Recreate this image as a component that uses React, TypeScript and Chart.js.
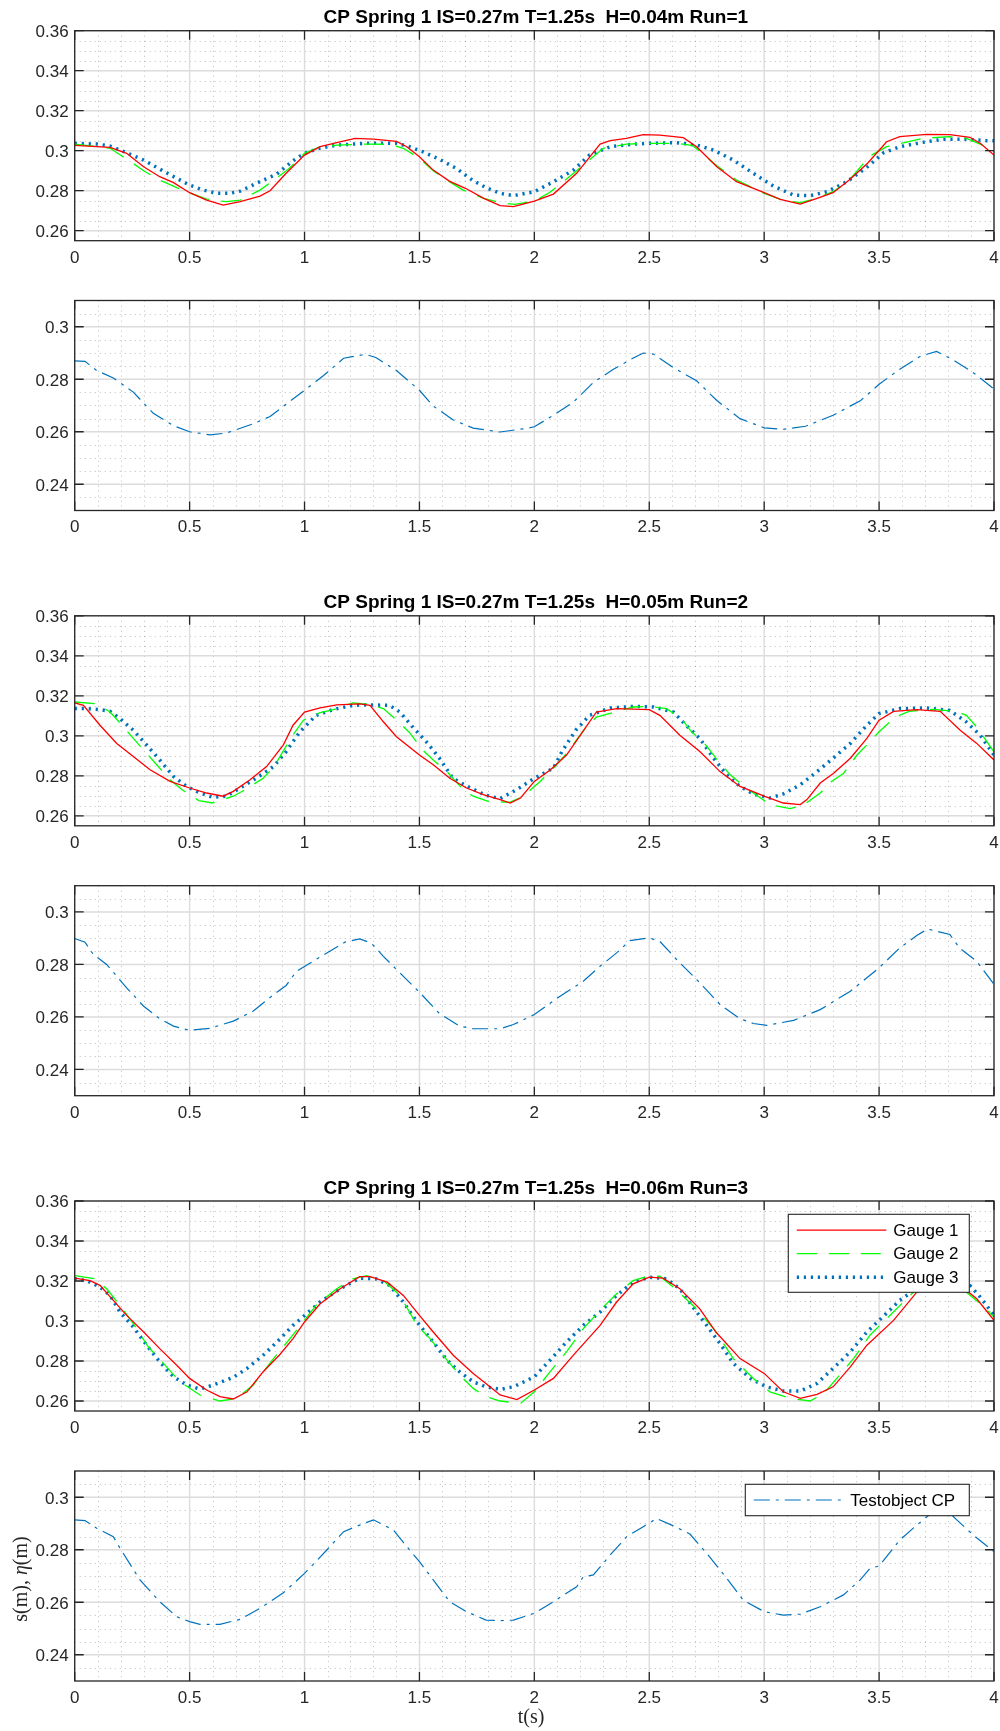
import React, { useEffect, useRef } from "react";
import { Chart, registerables } from "chart.js";

Chart.register(...registerables);

type Pt = [number, number];

// ---------- axes / labels ----------
const timeTicks = [0, 0.5, 1, 1.5, 2, 2.5, 3, 3.5, 4];
const gaugeTicks = [0.26, 0.28, 0.3, 0.32, 0.34, 0.36];
const cpTicks = [0.24, 0.26, 0.28, 0.3];
const timeLimits: [number, number] = [0, 4];
const gaugeLimits: [number, number] = [0.255, 0.36];
const cpLimits: [number, number] = [0.23, 0.31];
const runTitles = [
  "CP Spring 1 IS=0.27m T=1.25s  H=0.04m Run=1",
  "CP Spring 1 IS=0.27m T=1.25s  H=0.05m Run=2",
  "CP Spring 1 IS=0.27m T=1.25s  H=0.06m Run=3",
];
const gaugeLabels = ["Gauge 1", "Gauge 2", "Gauge 3"];
const cpLabel = "Testobject CP";
const xTitle = "t(s)";

// ---------- data: [t (s), value (m)] ----------
const run1Gauge1: Pt[] = [
  [0, 0.3027], [0.154, 0.3017], [0.226, 0.2987], [0.3, 0.292], [0.37, 0.287], [0.43, 0.284], [0.5, 0.279],
  [0.574, 0.2753], [0.646, 0.2728], [0.72, 0.2745], [0.806, 0.2773], [0.85, 0.28], [0.92, 0.2887], [1.0, 0.2978],
  [1.068, 0.302], [1.14, 0.304], [1.22, 0.3062], [1.3, 0.3058], [1.4, 0.3047], [1.445, 0.302], [1.5, 0.297],
  [1.56, 0.2903], [1.63, 0.2848], [1.7, 0.2812], [1.78, 0.2762], [1.851, 0.2725], [1.909, 0.272], [2.0, 0.2748],
  [2.083, 0.2783], [2.184, 0.2887], [2.286, 0.3033], [2.33, 0.305], [2.4, 0.3062], [2.474, 0.308], [2.546, 0.3078],
  [2.648, 0.3065], [2.706, 0.302], [2.794, 0.292], [2.88, 0.2845], [3.0, 0.279], [3.07, 0.2757], [3.157, 0.2733],
  [3.23, 0.2762], [3.3, 0.279], [3.37, 0.2853], [3.45, 0.2937], [3.533, 0.3045], [3.59, 0.307], [3.707, 0.3082],
  [3.808, 0.308], [3.895, 0.3067], [3.94, 0.3037], [4.0, 0.2978],
];
const run1Gauge2: Pt[] = [
  [0, 0.3033], [0.154, 0.3012], [0.233, 0.2953], [0.3, 0.29], [0.37, 0.2853], [0.444, 0.2815], [0.5, 0.279],
  [0.574, 0.2758], [0.66, 0.2745], [0.72, 0.2753], [0.806, 0.2803], [0.857, 0.2845], [0.929, 0.2907], [1.0, 0.2987],
  [1.068, 0.302], [1.14, 0.3028], [1.27, 0.3033], [1.37, 0.3032], [1.43, 0.3012], [1.5, 0.2962], [1.56, 0.29],
  [1.62, 0.2853], [1.69, 0.2803], [1.78, 0.2762], [1.851, 0.274], [1.916, 0.2732], [2.0, 0.2748], [2.068, 0.2792],
  [2.184, 0.29], [2.3, 0.3012], [2.4, 0.3033], [2.5, 0.3037], [2.62, 0.3037], [2.69, 0.3025], [2.794, 0.2925],
  [2.88, 0.2853], [3.0, 0.2787], [3.08, 0.2753], [3.157, 0.274], [3.23, 0.2762], [3.3, 0.2795], [3.37, 0.2853],
  [3.46, 0.2973], [3.533, 0.302], [3.61, 0.304], [3.69, 0.3062], [3.808, 0.307], [3.88, 0.3062], [3.94, 0.3033],
  [4.0, 0.2995],
];
const run1Gauge3: Pt[] = [
  [0, 0.3037], [0.096, 0.3033], [0.154, 0.3023], [0.226, 0.299], [0.3, 0.2953], [0.37, 0.2908], [0.444, 0.2862],
  [0.5, 0.2828], [0.56, 0.2803], [0.618, 0.2787], [0.676, 0.2787], [0.72, 0.2798], [0.806, 0.2845], [0.879, 0.2883],
  [0.95, 0.295], [1.0, 0.2987], [1.068, 0.3013], [1.14, 0.3028], [1.27, 0.3037], [1.4, 0.3037], [1.456, 0.302],
  [1.514, 0.2995], [1.587, 0.2957], [1.66, 0.2912], [1.73, 0.2853], [1.79, 0.2815], [1.851, 0.2787], [1.909, 0.2775],
  [2.0, 0.2795], [2.083, 0.2845], [2.17, 0.2903], [2.24, 0.2978], [2.33, 0.302], [2.43, 0.3033], [2.5, 0.3037],
  [2.62, 0.304], [2.706, 0.3028], [2.78, 0.3003], [2.866, 0.2953], [2.953, 0.2887], [3.04, 0.2823], [3.128, 0.2778],
  [3.2, 0.2775], [3.273, 0.2795], [3.36, 0.2845], [3.45, 0.292], [3.52, 0.299], [3.59, 0.302], [3.68, 0.304],
  [3.78, 0.3057], [3.88, 0.3057], [3.97, 0.305], [4.0, 0.305],
];
const run1Cp: Pt[] = [
  [0, 0.287], [0.045, 0.2868], [0.096, 0.2833], [0.168, 0.2805], [0.255, 0.2751], [0.342, 0.267], [0.43, 0.2623],
  [0.5, 0.26], [0.589, 0.2588], [0.66, 0.2595], [0.776, 0.263], [0.85, 0.2658], [0.92, 0.2705], [1.0, 0.2758],
  [1.083, 0.2814], [1.17, 0.288], [1.264, 0.2895], [1.31, 0.2883], [1.4, 0.2833], [1.5, 0.2758], [1.56, 0.2698],
  [1.647, 0.2645], [1.734, 0.2614], [1.851, 0.2599], [1.967, 0.2613], [2.0, 0.2619], [2.083, 0.2663], [2.17, 0.2713],
  [2.257, 0.2788], [2.344, 0.2838], [2.431, 0.2881], [2.474, 0.29], [2.518, 0.2896], [2.605, 0.2844], [2.706, 0.2794],
  [2.794, 0.2719], [2.895, 0.265], [3.0, 0.2615], [3.08, 0.2609], [3.18, 0.2621], [3.3, 0.2663], [3.42, 0.2719],
  [3.5, 0.2781], [3.59, 0.2838], [3.68, 0.2888], [3.75, 0.2906], [3.82, 0.2875], [3.91, 0.2825], [4.0, 0.2763],
];

const run2Gauge1: Pt[] = [
  [0, 0.3165], [0.038, 0.3152], [0.11, 0.3053], [0.183, 0.2962], [0.255, 0.2896], [0.328, 0.283], [0.415, 0.2772],
  [0.5, 0.2739], [0.574, 0.2714], [0.646, 0.2698], [0.69, 0.2722], [0.763, 0.278], [0.835, 0.2846], [0.908, 0.2955],
  [0.95, 0.3053], [1.0, 0.3119], [1.068, 0.314], [1.14, 0.3155], [1.24, 0.316], [1.285, 0.3152], [1.343, 0.307],
  [1.4, 0.2995], [1.5, 0.2904], [1.56, 0.2855], [1.632, 0.2788], [1.705, 0.2739], [1.778, 0.2706], [1.851, 0.2681],
  [1.895, 0.2664], [1.94, 0.2689], [2.0, 0.2772], [2.07, 0.283], [2.14, 0.2904], [2.21, 0.302], [2.27, 0.3119],
  [2.358, 0.3136], [2.5, 0.3131], [2.546, 0.3102], [2.633, 0.3003], [2.72, 0.2921], [2.808, 0.2821], [2.895, 0.2747],
  [3.0, 0.2698], [3.083, 0.2664], [3.157, 0.2656], [3.186, 0.2681], [3.244, 0.2764], [3.302, 0.2813], [3.375, 0.2888],
  [3.447, 0.2987], [3.5, 0.3078], [3.563, 0.3122], [3.664, 0.3131], [3.766, 0.3122], [3.853, 0.3028], [3.925, 0.2962],
  [4.0, 0.2879],
];
const run2Gauge2: Pt[] = [
  [0, 0.3169], [0.096, 0.316], [0.154, 0.3119], [0.21, 0.3048], [0.255, 0.2987], [0.313, 0.2912], [0.357, 0.2855],
  [0.415, 0.278], [0.466, 0.2731], [0.54, 0.2676], [0.6, 0.2664], [0.69, 0.2698], [0.75, 0.2736], [0.82, 0.2788],
  [0.865, 0.2841], [0.94, 0.2987], [0.995, 0.3078], [1.068, 0.3116], [1.126, 0.3131], [1.21, 0.3165], [1.285, 0.3157],
  [1.343, 0.3136], [1.415, 0.3064], [1.46, 0.3012], [1.514, 0.2929], [1.56, 0.2879], [1.62, 0.2821], [1.69, 0.2731],
  [1.734, 0.2698], [1.807, 0.2669], [1.851, 0.2669], [1.895, 0.2668], [1.952, 0.2698], [2.025, 0.2772], [2.083, 0.2838],
  [2.14, 0.2912], [2.22, 0.3036], [2.27, 0.3094], [2.35, 0.3119], [2.43, 0.3144], [2.5, 0.3147], [2.575, 0.3136],
  [2.64, 0.3086], [2.684, 0.302], [2.735, 0.297], [2.79, 0.2888], [2.85, 0.2808], [2.895, 0.2764], [2.953, 0.2714],
  [3.025, 0.2656], [3.113, 0.2636], [3.17, 0.2653], [3.244, 0.2714], [3.29, 0.2769], [3.346, 0.2813], [3.404, 0.2904],
  [3.46, 0.297], [3.5, 0.302], [3.57, 0.3094], [3.63, 0.3122], [3.737, 0.3132], [3.838, 0.3122], [3.88, 0.3102],
  [3.918, 0.3053], [3.97, 0.297], [4.0, 0.292],
];
const run2Gauge3: Pt[] = [
  [0, 0.3136], [0.052, 0.3136], [0.11, 0.3131], [0.154, 0.3122], [0.197, 0.3086], [0.255, 0.3028], [0.313, 0.2954],
  [0.37, 0.2879], [0.43, 0.2797], [0.487, 0.2747], [0.545, 0.2714], [0.6, 0.2693], [0.66, 0.2698], [0.72, 0.2739],
  [0.79, 0.2788], [0.865, 0.2846], [0.92, 0.2921], [0.98, 0.302], [1.05, 0.3102], [1.126, 0.3132], [1.21, 0.3152],
  [1.27, 0.3155], [1.37, 0.3152], [1.415, 0.3119], [1.47, 0.3045], [1.53, 0.297], [1.587, 0.2888], [1.645, 0.2788],
  [1.717, 0.2742], [1.79, 0.2702], [1.851, 0.2686], [1.924, 0.2731], [2.0, 0.2788], [2.083, 0.2838], [2.12, 0.2921],
  [2.18, 0.3028], [2.24, 0.3102], [2.33, 0.3139], [2.43, 0.3147], [2.518, 0.3144], [2.605, 0.3119], [2.66, 0.3053],
  [2.72, 0.2987], [2.78, 0.2888], [2.837, 0.2805], [2.895, 0.2747], [2.953, 0.2709], [3.025, 0.2689], [3.083, 0.2709],
  [3.157, 0.2755], [3.23, 0.2821], [3.3, 0.2888], [3.375, 0.2962], [3.447, 0.3053], [3.5, 0.3111], [3.59, 0.3136],
  [3.707, 0.3139], [3.808, 0.3127], [3.88, 0.3069], [3.94, 0.3003], [4.0, 0.2904],
];
const run2Cp: Pt[] = [
  [0, 0.2899], [0.045, 0.2885], [0.081, 0.2838], [0.139, 0.28], [0.226, 0.2711], [0.3, 0.2641], [0.37, 0.2593],
  [0.43, 0.2565], [0.5, 0.2549], [0.589, 0.2557], [0.69, 0.2584], [0.776, 0.2622], [0.865, 0.2685], [0.92, 0.272],
  [0.965, 0.2774], [1.037, 0.2812], [1.126, 0.2859], [1.176, 0.2885], [1.24, 0.2897], [1.29, 0.2882], [1.343, 0.2831],
  [1.415, 0.2768], [1.5, 0.2694], [1.587, 0.2613], [1.675, 0.2565], [1.734, 0.2555], [1.851, 0.2555], [1.909, 0.2571],
  [2.0, 0.2609], [2.112, 0.2679], [2.213, 0.2736], [2.286, 0.2793], [2.358, 0.2844], [2.416, 0.2891], [2.5, 0.2901],
  [2.546, 0.2888], [2.619, 0.2819], [2.72, 0.273], [2.808, 0.2647], [2.895, 0.2593], [2.953, 0.2575], [3.012, 0.2568],
  [3.128, 0.2587], [3.244, 0.2628], [3.375, 0.2698], [3.5, 0.2787], [3.59, 0.2863], [3.664, 0.291], [3.711, 0.2935],
  [3.766, 0.2923], [3.808, 0.2914], [3.85, 0.2863], [3.925, 0.2812], [4.0, 0.2724],
];

const run3Gauge1: Pt[] = [
  [0, 0.3214], [0.067, 0.3202], [0.11, 0.3178], [0.168, 0.3103], [0.226, 0.3028], [0.3, 0.2945], [0.37, 0.2862],
  [0.444, 0.2779], [0.5, 0.2713], [0.574, 0.2655], [0.632, 0.2622], [0.69, 0.261], [0.75, 0.2646], [0.82, 0.2746],
  [0.89, 0.2829], [0.95, 0.2912], [1.0, 0.2995], [1.068, 0.3086], [1.155, 0.3161], [1.24, 0.3222], [1.285, 0.3222],
  [1.36, 0.3194], [1.43, 0.3128], [1.5, 0.3028], [1.56, 0.2945], [1.647, 0.2829], [1.734, 0.2738], [1.807, 0.2671],
  [1.851, 0.263], [1.924, 0.2607], [2.0, 0.2655], [2.083, 0.2713], [2.17, 0.2829], [2.286, 0.2978], [2.358, 0.3095],
  [2.43, 0.3186], [2.5, 0.3219], [2.56, 0.3214], [2.633, 0.3161], [2.72, 0.3061], [2.79, 0.2945], [2.895, 0.2812],
  [3.0, 0.2738], [3.083, 0.2646], [3.157, 0.2613], [3.23, 0.2633], [3.3, 0.2671], [3.375, 0.2771], [3.447, 0.2879],
  [3.563, 0.3003], [3.664, 0.3144], [3.737, 0.3202], [3.8, 0.3215], [3.853, 0.3178], [3.925, 0.3111], [4.0, 0.3003],
];
const run3Gauge2: Pt[] = [
  [0, 0.3227], [0.088, 0.3211], [0.139, 0.3161], [0.197, 0.3078], [0.255, 0.2987], [0.32, 0.2871], [0.386, 0.2788],
  [0.458, 0.2696], [0.545, 0.263], [0.632, 0.26], [0.705, 0.2613], [0.777, 0.268], [0.865, 0.2812], [0.908, 0.2871],
  [0.966, 0.2954], [1.05, 0.3078], [1.14, 0.3161], [1.21, 0.3211], [1.27, 0.3227], [1.343, 0.3202], [1.415, 0.3128],
  [1.49, 0.2978], [1.546, 0.2912], [1.62, 0.2804], [1.675, 0.273], [1.734, 0.2663], [1.79, 0.2622], [1.851, 0.26],
  [1.94, 0.2588], [2.0, 0.2646], [2.068, 0.2746], [2.14, 0.2846], [2.213, 0.2962], [2.286, 0.3053], [2.358, 0.3136],
  [2.43, 0.3202], [2.5, 0.3227], [2.546, 0.3224], [2.605, 0.3169], [2.69, 0.3078], [2.78, 0.2962], [2.866, 0.2812],
  [2.953, 0.2713], [3.025, 0.2646], [3.113, 0.2613], [3.2, 0.26], [3.26, 0.2638], [3.316, 0.2713], [3.389, 0.2812],
  [3.46, 0.2929], [3.533, 0.3012], [3.606, 0.3095], [3.664, 0.3161], [3.74, 0.3215], [3.81, 0.3222], [3.88, 0.3144],
  [3.94, 0.3086], [4.0, 0.302],
];
const run3Gauge3: Pt[] = [
  [0, 0.3211], [0.052, 0.3202], [0.11, 0.3169], [0.154, 0.3128], [0.197, 0.3045], [0.255, 0.297], [0.313, 0.2879],
  [0.37, 0.2796], [0.43, 0.2721], [0.487, 0.268], [0.545, 0.266], [0.603, 0.268], [0.69, 0.2718], [0.75, 0.2763],
  [0.82, 0.2829], [0.88, 0.2895], [0.95, 0.2978], [1.01, 0.3037], [1.068, 0.3095], [1.155, 0.3161], [1.24, 0.3214],
  [1.31, 0.3211], [1.37, 0.3178], [1.43, 0.3095], [1.49, 0.2995], [1.56, 0.2895], [1.62, 0.2804], [1.675, 0.2746],
  [1.734, 0.2696], [1.79, 0.2671], [1.851, 0.2658], [1.909, 0.2671], [2.0, 0.2721], [2.068, 0.2804], [2.14, 0.2895],
  [2.213, 0.2978], [2.286, 0.3045], [2.358, 0.3128], [2.43, 0.3194], [2.5, 0.3219], [2.575, 0.3211], [2.633, 0.3161],
  [2.69, 0.307], [2.75, 0.2978], [2.808, 0.2887], [2.866, 0.2788], [2.94, 0.2713], [3.01, 0.2671], [3.083, 0.265],
  [3.157, 0.265], [3.23, 0.2688], [3.3, 0.2763], [3.375, 0.2846], [3.447, 0.2945], [3.5, 0.3003], [3.59, 0.3103],
  [3.66, 0.316], [3.74, 0.3205], [3.82, 0.3215], [3.895, 0.3178], [3.94, 0.312], [4.0, 0.3028],
];
const run3Cp: Pt[] = [
  [0, 0.2914], [0.045, 0.2911], [0.096, 0.2882], [0.168, 0.285], [0.197, 0.2806], [0.284, 0.2685], [0.37, 0.2602],
  [0.444, 0.2545], [0.5, 0.2526], [0.545, 0.2516], [0.632, 0.2516], [0.72, 0.2535], [0.806, 0.2577], [0.908, 0.2636],
  [1.0, 0.271], [1.097, 0.2799], [1.17, 0.2869], [1.24, 0.2894], [1.3, 0.2914], [1.387, 0.2875], [1.445, 0.2812],
  [1.5, 0.2755], [1.56, 0.2685], [1.632, 0.2602], [1.705, 0.2564], [1.79, 0.2532], [1.851, 0.253], [1.909, 0.2532],
  [2.0, 0.2558], [2.083, 0.2602], [2.184, 0.2659], [2.213, 0.2697], [2.257, 0.2704], [2.33, 0.278], [2.402, 0.285],
  [2.474, 0.2888], [2.532, 0.2919], [2.605, 0.2891], [2.677, 0.286], [2.75, 0.2786], [2.837, 0.2691], [2.909, 0.2608],
  [3.0, 0.2564], [3.083, 0.2551], [3.157, 0.2555], [3.244, 0.2583], [3.345, 0.2628], [3.418, 0.2685], [3.46, 0.2729],
  [3.5, 0.2738], [3.59, 0.2837], [3.664, 0.2894], [3.722, 0.2935], [3.795, 0.295], [3.838, 0.2914], [3.91, 0.2856],
  [4.0, 0.2793],
];

const gaugeRuns: Pt[][][] = [
  [run1Gauge1, run1Gauge2, run1Gauge3],
  [run2Gauge1, run2Gauge2, run2Gauge3],
  [run3Gauge1, run3Gauge2, run3Gauge3],
];
const cpRuns: Pt[][] = [run1Cp, run2Cp, run3Cp];

// ---------- styles ----------
const gaugeStyles = [
  { color: "#ff0000", width: 1.3, dash: [] as number[] },
  { color: "#00ff00", width: 1.3, dash: [20, 12] },
  { color: "#0072bd", width: 3.5, dash: [2.2, 4.8] },
];
const cpStyle = { color: "#0072bd", width: 1.2, dash: [16, 6, 3, 6] };

const AXIS_COLOR = "#262626";
const TICK_FONT = '17px "Liberation Sans", Arial, Helvetica, sans-serif';
const TITLE_FONT = 'bold 19px "Liberation Sans", Arial, Helvetica, sans-serif';
const SERIF = '"Liberation Serif", "Times New Roman", serif';
const PLOT_LEFT = 74.7;
const PLOT_RIGHT_PAD = 6;
const PLOT_H = 210;
const TICK_LEN = 9;

interface PanelSpec {
  kind: "gauge" | "cp";
  run: number;
  canvasTop: number;
  plotTop: number;
  canvasH: number;
  legend: boolean;
  axisTitles: boolean;
}

const panels: PanelSpec[] = [
  { kind: "gauge", run: 0, canvasTop: 0, plotTop: 30.7, canvasH: 281, legend: false, axisTitles: false },
  { kind: "cp", run: 0, canvasTop: 281, plotTop: 300.5, canvasH: 270, legend: false, axisTitles: false },
  { kind: "gauge", run: 1, canvasTop: 584, plotTop: 615.8, canvasH: 282, legend: false, axisTitles: false },
  { kind: "cp", run: 1, canvasTop: 866, plotTop: 885.7, canvasH: 270, legend: false, axisTitles: false },
  { kind: "gauge", run: 2, canvasTop: 1170, plotTop: 1201, canvasH: 281, legend: true, axisTitles: false },
  { kind: "cp", run: 2, canvasTop: 1451, plotTop: 1471, canvasH: 280, legend: true, axisTitles: true },
];

function line(ctx: CanvasRenderingContext2D, x1: number, y1: number, x2: number, y2: number) {
  ctx.moveTo(x1, y1);
  ctx.lineTo(x2, y2);
}

function makePlugin(spec: PanelSpec) {
  const yTicks = spec.kind === "gauge" ? gaugeTicks : cpTicks;
  const yLim = spec.kind === "gauge" ? gaugeLimits : cpLimits;
  return {
    id: "matlabAxes",
    beforeDatasetsDraw(chart: any) {
      const { ctx, chartArea: a, scales } = chart;
      const xs = scales.x;
      const ys = scales.y;
      ctx.save();
      // minor grid (dotted)
      ctx.strokeStyle = "rgba(30,30,30,0.24)";
      ctx.lineWidth = 1;
      ctx.setLineDash([1.2, 3.8]);
      ctx.beginPath();
      const nx = Math.round((timeLimits[1] - timeLimits[0]) / 0.1);
      for (let i = 1; i < nx; i++) {
        if (i % 5 === 0) continue;
        const px = Math.round(xs.getPixelForValue(timeLimits[0] + i * 0.1)) + 0.5;
        line(ctx, px, a.top, px, a.bottom);
      }
      const ny = Math.round((yLim[1] - yLim[0]) / 0.005);
      for (let i = 1; i < ny; i++) {
        const v = yLim[0] + i * 0.005;
        if (yTicks.some((t) => Math.abs(t - v) < 1e-6)) continue;
        const py = Math.round(ys.getPixelForValue(v)) + 0.5;
        line(ctx, a.left, py, a.right, py);
      }
      ctx.stroke();
      // major grid
      ctx.setLineDash([]);
      ctx.strokeStyle = "#dcdcdc";
      ctx.lineWidth = 1.4;
      ctx.beginPath();
      for (const v of timeTicks) {
        const px = xs.getPixelForValue(v);
        line(ctx, px, a.top, px, a.bottom);
      }
      for (const v of yTicks) {
        const py = ys.getPixelForValue(v);
        line(ctx, a.left, py, a.right, py);
      }
      ctx.stroke();
      ctx.restore();
    },
    afterDatasetsDraw(chart: any) {
      const { ctx, chartArea: a, scales } = chart;
      const xs = scales.x;
      const ys = scales.y;
      ctx.save();
      ctx.setLineDash([]);
      // box
      ctx.strokeStyle = AXIS_COLOR;
      ctx.lineWidth = 1.3;
      ctx.strokeRect(a.left, a.top, a.right - a.left, a.bottom - a.top);
      // inward ticks
      ctx.beginPath();
      for (const v of timeTicks) {
        const px = xs.getPixelForValue(v);
        line(ctx, px, a.bottom, px, a.bottom - TICK_LEN);
        line(ctx, px, a.top, px, a.top + TICK_LEN);
      }
      for (const v of yTicks) {
        const py = ys.getPixelForValue(v);
        line(ctx, a.left, py, a.left + TICK_LEN, py);
        line(ctx, a.right, py, a.right - TICK_LEN, py);
      }
      ctx.stroke();
      // tick labels
      ctx.fillStyle = AXIS_COLOR;
      ctx.font = TICK_FONT;
      ctx.textAlign = "right";
      ctx.textBaseline = "middle";
      for (const v of yTicks) ctx.fillText(String(v), a.left - 6, ys.getPixelForValue(v) + 1.8);
      ctx.textAlign = "center";
      ctx.textBaseline = "alphabetic";
      for (const v of timeTicks) ctx.fillText(String(v), xs.getPixelForValue(v), a.bottom + 21.8);
      // title
      if (spec.kind === "gauge") {
        ctx.fillStyle = "#000";
        ctx.font = TITLE_FONT;
        ctx.textAlign = "center";
        ctx.textBaseline = "alphabetic";
        ctx.fillText(runTitles[spec.run], (a.left + a.right) / 2 + 1.5, a.top - 7.4);
      }
      // legend
      if (spec.legend) {
        const ds = chart.data.datasets;
        const isGauge = spec.kind === "gauge";
        const w = isGauge ? 181 : 224;
        const h = isGauge ? 78 : 31.4;
        const rows = isGauge ? [15.8, 39.4, 63] : [15.7];
        const left = a.right - 24.7 - w;
        const top = a.top + 13.3;
        ctx.fillStyle = "#ffffff";
        ctx.fillRect(left, top, w, h);
        ctx.strokeStyle = AXIS_COLOR;
        ctx.lineWidth = 1.1;
        ctx.strokeRect(left, top, w, h);
        ds.forEach((d: any, i: number) => {
          const y = top + rows[i];
          ctx.save();
          ctx.strokeStyle = d.borderColor;
          ctx.lineWidth = d.borderWidth;
          ctx.setLineDash(d.borderDash || []);
          ctx.lineCap = "butt";
          ctx.beginPath();
          line(ctx, left + 8.5, y, left + 98, y);
          ctx.stroke();
          ctx.restore();
          ctx.fillStyle = "#000";
          ctx.font = TICK_FONT;
          ctx.textAlign = "left";
          ctx.textBaseline = "middle";
          ctx.fillText(d.label, left + 105, y + 1);
        });
      }
      // axis titles
      if (spec.axisTitles) {
        ctx.fillStyle = AXIS_COLOR;
        ctx.font = `20px ${SERIF}`;
        ctx.textAlign = "center";
        ctx.textBaseline = "alphabetic";
        ctx.fillText(xTitle, 531, a.bottom + 42);
        // y title: s(m), η(m)  (η italic)
        const parts: [string, string][] = [
          ["s(m), ", `20px ${SERIF}`],
          ["\u03b7", `italic 20px ${SERIF}`],
          ["(m)", `20px ${SERIF}`],
        ];
        let total = 0;
        for (const [t, f] of parts) {
          ctx.font = f;
          total += ctx.measureText(t).width;
        }
        ctx.save();
        ctx.translate(27, (a.top + a.bottom) / 2 + 3);
        ctx.rotate(-Math.PI / 2);
        ctx.textAlign = "left";
        let x = -total / 2;
        for (const [t, f] of parts) {
          ctx.font = f;
          ctx.fillText(t, x, 0);
          x += ctx.measureText(t).width;
        }
        ctx.restore();
      }
      ctx.restore();
    },
  };
}

function Panel({ spec }: { spec: PanelSpec }) {
  const ref = useRef<HTMLCanvasElement>(null);
  useEffect(() => {
    const canvas = ref.current;
    if (!canvas) return;
    const isGauge = spec.kind === "gauge";
    const series = isGauge ? gaugeRuns[spec.run] : [cpRuns[spec.run]];
    const styles = isGauge ? gaugeStyles : [cpStyle];
    const labels = isGauge ? gaugeLabels : [cpLabel];
    const yLim = isGauge ? gaugeLimits : cpLimits;
    const padTop = spec.plotTop - spec.canvasTop;
    const xAxisH = spec.canvasH - padTop - PLOT_H;
    const chart = new Chart(canvas, {
      type: "line",
      data: {
        datasets: series.map((pts, i) => ({
          label: labels[i],
          data: pts.map(([t, v]) => ({ x: t, y: v })),
          borderColor: styles[i].color,
          borderWidth: styles[i].width,
          borderDash: styles[i].dash,
          borderCapStyle: "butt",
          pointRadius: 0,
          tension: 0,
          fill: false,
        })),
      },
      options: {
        responsive: false,
        animation: false,
        events: [],
        devicePixelRatio: 1,
        layout: { padding: { top: padTop, right: PLOT_RIGHT_PAD, bottom: 0, left: 0 } },
        plugins: { legend: { display: false }, tooltip: { enabled: false }, title: { display: false } },
        scales: {
          x: {
            type: "linear",
            min: timeLimits[0],
            max: timeLimits[1],
            grid: { display: false },
            border: { display: false },
            ticks: { display: false },
            afterFit: (s: any) => {
              s.height = xAxisH;
            },
          },
          y: {
            type: "linear",
            min: yLim[0],
            max: yLim[1],
            grid: { display: false },
            border: { display: false },
            ticks: { display: false },
            afterFit: (s: any) => {
              s.width = PLOT_LEFT;
            },
          },
        },
      } as any,
      plugins: [makePlugin(spec) as any],
    });
    return () => chart.destroy();
  }, [spec]);
  return (
    <canvas
      ref={ref}
      width={1000}
      height={spec.canvasH}
      style={{ position: "absolute", left: 0, top: spec.canvasTop, width: 1000, height: spec.canvasH }}
    />
  );
}

export default function App() {
  return (
    <div style={{ position: "absolute", left: 0, top: 0, width: 1000, height: 1731, background: "#ffffff", overflow: "hidden" }}>
      {panels.map((p, i) => (
        <Panel key={i} spec={p} />
      ))}
    </div>
  );
}
